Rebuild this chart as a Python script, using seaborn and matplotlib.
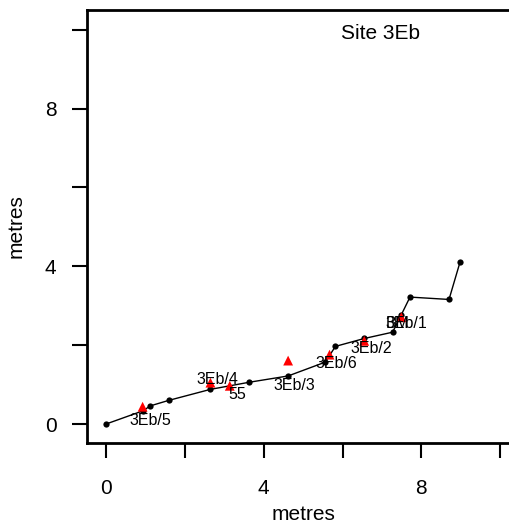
import matplotlib
matplotlib.use("Agg")
import matplotlib.pyplot as plt
import seaborn as sns
import pandas as pd

# traverse line (black dots)
line_x = [0.0, 0.95, 1.12, 1.59, 2.65, 3.63, 4.62, 5.56, 5.82, 6.55, 7.27, 7.49, 7.71, 8.70, 8.98]
line_y = [0.0, 0.34, 0.46, 0.60, 0.88, 1.06, 1.22, 1.57, 1.97, 2.17, 2.33, 2.77, 3.22, 3.16, 4.11]

# samples (red triangles)
tri_x = [0.93, 2.65, 3.14, 4.62, 5.67, 6.55, 7.49]
tri_y = [0.44, 1.05, 0.97, 1.61, 1.76, 2.11, 2.71]

# sample labels
lab_text = ["3Eb/5", "3Eb/4", "55", "3Eb/3", "3Eb/6", "3Eb/2", "BM", "3Eb/1"]
lab_x = [1.12, 2.82, 3.32, 4.79, 5.85, 6.73, 7.41, 7.62]
lab_y = [0.10, 1.12, 0.74, 0.97, 1.54, 1.92, 2.54, 2.54]

xticks = [0, 2, 4, 6, 8, 10]
xtick_labels = ["0", "", "4", "", "8", ""]
yticks = [0, 2, 4, 6, 8, 10]
ytick_labels = ["0", "", "4", "", "8", ""]

sns.set_style("ticks")
plt.rcParams['font.family'] = ['Liberation Sans', 'DejaVu Sans']
plt.rcParams['text.color'] = 'black'
plt.rcParams['axes.labelcolor'] = 'black'

fig = plt.figure(figsize=(5.09, 5.27), dpi=100)
ax = fig.add_axes([87 / 509, (527 - 443) / 527, (520 - 87) / 509, (443 - 10) / 527])

df_line = pd.DataFrame({"x": line_x, "y": line_y})
df_tri = pd.DataFrame({"x": tri_x, "y": tri_y})

sns.lineplot(data=df_line, x="x", y="y", sort=False, color="black", lw=1.0,
             marker="o", markersize=4.5, markeredgewidth=0, ax=ax)
sns.scatterplot(data=df_tri, x="x", y="y", marker="^", color="red", s=50,
                edgecolor="none", ax=ax, zorder=3)

for t, x, y in zip(lab_text, lab_x, lab_y):
    ax.text(x, y, t, fontsize=11.5, ha="center", va="center", color="black", zorder=4)

ax.text(6.95, 9.9, "Site 3Eb", fontsize=15, ha="center", va="center", color="black")

ax.set_xlim(-0.48, 10.5)
ax.set_ylim(-0.48, 10.5)
ax.set_xticks(xticks)
ax.set_xticklabels(xtick_labels)
ax.set_yticks(yticks)
ax.set_yticklabels(ytick_labels)
ax.tick_params(axis="both", length=11, width=1.5, labelsize=15, color="black", labelcolor="black")
ax.tick_params(axis="x", pad=15)
ax.tick_params(axis="y", pad=11)
for s in ax.spines.values():
    s.set_linewidth(2)
    s.set_color("black")
ax.set_xlabel("metres", fontsize=15, labelpad=5)
ax.set_ylabel("metres", fontsize=15, labelpad=14)

fig.savefig("out.png", dpi=100)
